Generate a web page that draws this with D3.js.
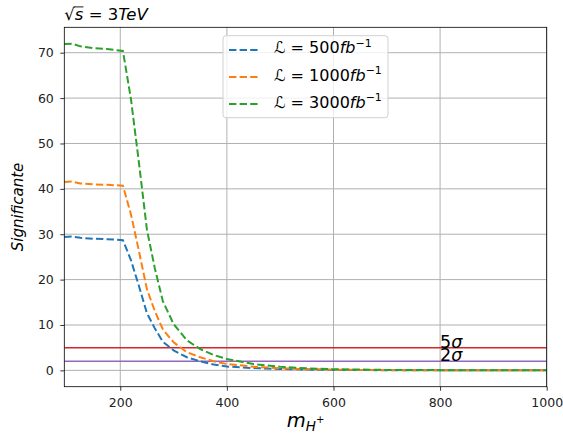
<!DOCTYPE html>
<html>
<head>
<meta charset="utf-8">
<script src="https://cdn.jsdelivr.net/npm/d3@7"></script>
<style>
	body { margin: 0; background: #fff; }
	text { font-family: "DejaVu Sans", sans-serif; fill: #222; }
</style>
</head>
<body>
<div id="chart"></div>
<script>
// masses (GeV) and significance
const masses = [95, 110, 125, 150, 175, 205, 220, 235, 250, 265, 280, 300, 325, 350, 375, 400, 450, 500, 550, 600, 700, 800, 900, 1000]
const sig500 = [29.4, 29.5, 29.2, 29.0, 28.9, 28.7, 24.3, 18.6, 12.6, 9.2, 6.3, 4.4, 2.9, 2.0, 1.3, 0.85, 0.5, 0.3, 0.17, 0.1, 0.04, 0.02, 0.01, 0.01]
const sig1000 = [41.5, 41.6, 41.2, 41.0, 40.9, 40.7, 34.4, 26.3, 17.9, 13.0, 9.0, 6.2, 4.0, 2.9, 2.0, 1.4, 0.8, 0.46, 0.26, 0.14, 0.06, 0.03, 0.02, 0.01]
const sig3000 = [71.9, 72.0, 71.4, 71.0, 70.8, 70.4, 59.8, 45.8, 31.0, 22.4, 15.2, 10.2, 6.6, 4.7, 3.4, 2.5, 1.4, 0.8, 0.45, 0.25, 0.1, 0.05, 0.03, 0.02]
const seriesLabels = ["500", "1000", "3000"]
const seriesColors = ["#1f77b4", "#ff7f0e", "#2ca02c"]
const levels = [5, 2]
const levelLabels = ["5", "2"]
const levelColors = ["#d62728", "#9467bd"]
const xTicks = [200, 400, 600, 800, 1000]
const yTicks = [0, 10, 20, 30, 40, 50, 60, 70]

const W = 563, H = 434
const margin = { top: 27.3, right: 16.3, bottom: 47.3, left: 64.3 }
const iw = W - margin.left - margin.right
const ih = H - margin.top - margin.bottom

const svg = d3.select("#chart").append("svg")
	.attr("width", W)
	.attr("height", H)

const g = svg.append("g")
	.attr("transform", `translate(${margin.left},${margin.top})`)

const x = d3.scaleLinear().domain([95, 1000]).range([0, iw])
const y = d3.scaleLinear().domain([-3.6, 75.6]).range([ih, 0])

// сетка
g.append("g").selectAll("line")
	.data(xTicks).enter().append("line")
	.attr("x1", d => x(d)).attr("x2", d => x(d))
	.attr("y1", 0).attr("y2", ih)
	.style("stroke", "#b0b0b0").style("stroke-width", 1)
g.append("g").selectAll("line")
	.data(yTicks).enter().append("line")
	.attr("x1", 0).attr("x2", iw)
	.attr("y1", d => y(d)).attr("y2", d => y(d))
	.style("stroke", "#b0b0b0").style("stroke-width", 1)

g.append("clipPath").attr("id", "clip")
	.append("rect").attr("width", iw).attr("height", ih)

const plot = g.append("g").attr("clip-path", "url(#clip)")

// horizontal levels 5σ, 2σ
plot.selectAll(".level")
	.data(levels).enter().append("line")
	.attr("class", "level")
	.attr("x1", 0).attr("x2", iw)
	.attr("y1", d => y(d)).attr("y2", d => y(d))
	.style("stroke", (d, i) => levelColors[i])
	.style("stroke-width", 1.5)

const series = [sig500, sig1000, sig3000]
const line = d3.line()
	.x((d, i) => x(masses[i]))
	.y(d => y(d))

plot.selectAll(".curve")
	.data(series).enter().append("path")
	.attr("class", "curve")
	.attr("d", line)
	.style("fill", "none")
	.style("stroke", (d, i) => seriesColors[i])
	.style("stroke-width", 2)
	.style("stroke-dasharray", "7.4,3.2")

// labels for the levels
const lvl = g.selectAll(".lvl-label")
	.data(levels).enter().append("text")
	.attr("class", "lvl-label")
	.attr("x", x(800))
	.attr("y", d => y(d))
	.style("font-size", "17.5px")
	.style("fill", "#000")
lvl.append("tspan").text((d, i) => levelLabels[i])
lvl.append("tspan").style("font-style", "italic").text("σ")

// axes
const xAxis = g.append("g")
	.attr("transform", `translate(0,${ih})`)
	.call(d3.axisBottom(x).tickValues(xTicks).tickFormat(d3.format("d")).tickSize(4).tickPadding(7))
const yAxis = g.append("g")
	.call(d3.axisLeft(y).tickValues(yTicks).tickSize(4).tickPadding(6.5))
;[xAxis, yAxis].forEach(a => {
	a.select(".domain").remove()
	a.selectAll("text").style("font-size", "12.5px").style("font-family", "DejaVu Sans").style("fill", "#222")
	a.selectAll(".tick line").style("stroke", "#000").style("stroke-width", 0.8)
})

g.append("rect")
	.attr("width", iw).attr("height", ih)
	.style("fill", "none").style("stroke", "#000").style("stroke-width", 0.8)

// legend
const legendW = 165, legendH = 82
const lg = g.append("g")
	.attr("transform", `translate(${iw / 2 - legendW / 2},8.4)`)
lg.append("rect")
	.attr("width", legendW).attr("height", legendH)
	.attr("rx", 3)
	.style("fill", "rgba(255,255,255,0.8)")
	.style("stroke", "#d0d0d0").style("stroke-width", 1)

const entry = lg.selectAll(".entry")
	.data(seriesLabels).enter().append("g")
	.attr("class", "entry")
	.attr("transform", (d, i) => `translate(0,${14.3 + i * 27})`)
entry.append("line")
	.attr("x1", 6).attr("x2", 35)
	.style("stroke", (d, i) => seriesColors[i])
	.style("stroke-width", 2)
	.style("stroke-dasharray", "7.4,3.2")
const et = entry.append("text")
	.attr("x", 51).attr("y", 3.5)
	.style("font-size", "16px").style("fill", "#000")
et.append("tspan").style("font-style", "italic").text("ℒ")
et.append("tspan").text(d => " = " + d)
et.append("tspan").style("font-style", "italic").text("fb")
et.append("tspan").attr("dy", -6.5).style("font-size", "11px").text("−1")

// title
const title = svg.append("text")
	.attr("x", margin.left).attr("y", 19.5)
	.style("font-size", "16.5px").style("fill", "#000")
title.append("tspan").text("√")
title.append("tspan").style("font-style", "italic").text("s")
title.append("tspan").text(" = 3")
title.append("tspan").style("font-style", "italic").text("TeV")
const sBox = title.node().getExtentOfChar(1)
const rBox = title.node().getExtentOfChar(0)
svg.append("line")
	.attr("x1", rBox.x + rBox.width - 1).attr("x2", sBox.x + sBox.width)
	.attr("y1", rBox.y + 2.4).attr("y2", rBox.y + 2.4)
	.style("stroke", "#000").style("stroke-width", 0.9)

// axis labels
const xl = svg.append("text")
	.attr("x", margin.left + iw / 2).attr("y", 427)
	.attr("text-anchor", "middle")
	.style("fill", "#000")
xl.append("tspan").style("font-style", "italic").style("font-size", "19.5px").text("m")
xl.append("tspan").attr("dy", 3.5).style("font-style", "italic").style("font-size", "13.5px").text("H")
xl.append("tspan").attr("dy", -8).style("font-size", "10px").text("+")

svg.append("text")
	.attr("transform", `translate(22.5,${margin.top + ih / 2}) rotate(-90)`)
	.attr("text-anchor", "middle")
	.style("font-style", "italic").style("font-size", "15px").style("fill", "#000")
	.text("Significante")
</script>
</body>
</html>
